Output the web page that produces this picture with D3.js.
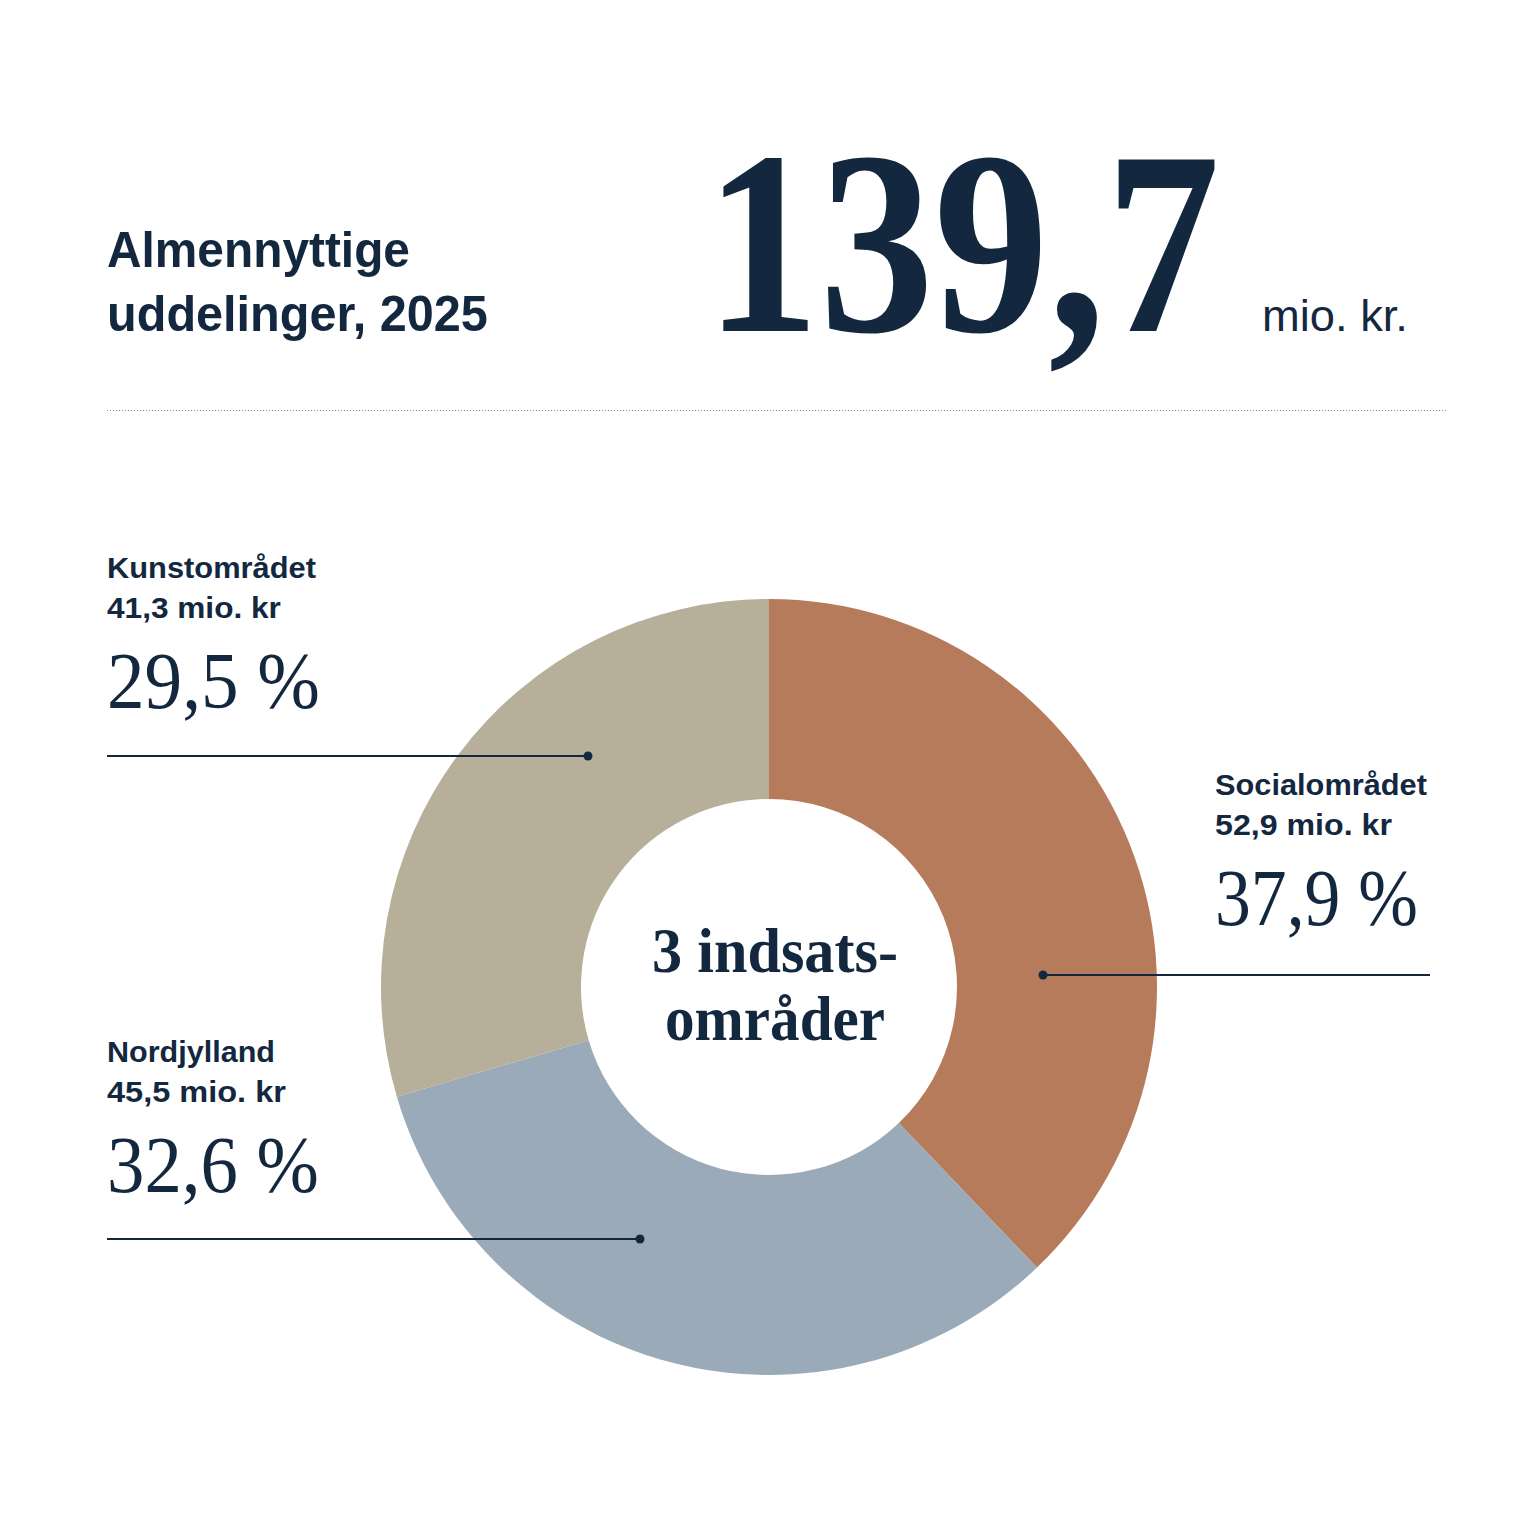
<!DOCTYPE html>
<html>
<head>
<meta charset="utf-8">
<script src="https://cdn.jsdelivr.net/npm/d3@7"></script>
<style>
  body { margin: 0; background: #fff; }
  svg { display: block; }
</style>
</head>
<body>
<div id="chart"></div>
<script>
const categories = ['Socialområdet', 'Nordjylland', 'Kunstområdet'];
const amounts = [52.9, 45.5, 41.3];
const percentLabels = ['37,9 %', '32,6 %', '29,5 %'];
const amountLabels = ['52,9 mio. kr', '45,5 mio. kr', '41,3 mio. kr'];
const colors = ['#B57B5A', '#9BAAB8', '#B8AF9A'];
const totalLabel = '139,7';

const ink = '#13283F';
const sans = "'Liberation Sans', Arial, sans-serif";
const serif = "'Liberation Serif', 'DejaVu Serif', serif";

const svg = d3.select('#chart').append('svg')
  .attr('width', 1536)
  .attr('height', 1536);

// places a text at (x, y) and squeezes it horizontally to the given width
function fitText(x, y, str, width, opts) {
  const g = svg.append('g').attr('transform', `translate(${x},${y})`);
  const t = g.append('text')
    .attr('font-family', opts.family)
    .attr('font-weight', opts.weight || 400)
    .attr('font-size', opts.size)
    .attr('text-anchor', opts.anchor || 'start')
    .attr('fill', ink)
    .text(str);
  const w = t.node().getComputedTextLength();
  const k = width / w;
  g.attr('transform', `translate(${x},${y}) scale(${k},1)`);
  return t;
}

// header
fitText(107, 267, 'Almennyttige', 303, { family: sans, weight: 700, size: 50 });
fitText(107, 331, 'uddelinger, 2025', 381, { family: sans, weight: 700, size: 50 });
fitText(705, 331, totalLabel, 515, { family: serif, weight: 700, size: 262 });
fitText(1262, 331, 'mio. kr.', 146, { family: sans, size: 44 });

svg.append('line')
  .attr('x1', 107).attr('x2', 1446)
  .attr('y1', 410.5).attr('y2', 410.5)
  .attr('stroke', '#8a8f96').attr('stroke-width', 1)
  .attr('stroke-dasharray', '1 2');

// donut
const cx = 769, cy = 987;
const outerR = 388, innerR = 188;

const pie = d3.pie().sort(null).value(d => d);
const arc = d3.arc().innerRadius(innerR).outerRadius(outerR);

const g = svg.append('g').attr('transform', `translate(${cx},${cy})`);
g.selectAll('path')
  .data(pie(amounts))
  .join('path')
  .attr('d', arc)
  .attr('fill', (d, i) => colors[i]);

// center text
fitText(775, 972, '3 indsats-', 246, { family: serif, weight: 700, size: 64, anchor: 'middle' });
fitText(775, 1040, 'områder', 220, { family: serif, weight: 700, size: 64, anchor: 'middle' });

// labels
const labelLayout = [
  { x: 1215, y: 795, lineY: 975, x1: 1043, x2: 1430, dotX: 1043, w: [212, 177, 203] },
  { x: 107, y: 1062, lineY: 1239, x1: 107, x2: 640, dotX: 640, w: [168, 179, 212] },
  { x: 107, y: 578, lineY: 756, x1: 107, x2: 588, dotX: 588, w: [209, 174, 213] }
];

categories.forEach((name, i) => {
  const L = labelLayout[i];
  fitText(L.x, L.y, name, L.w[0], { family: sans, weight: 700, size: 30 });
  fitText(L.x, L.y + 40, amountLabels[i], L.w[1], { family: sans, weight: 700, size: 30 });
  fitText(L.x, L.y + 130, percentLabels[i], L.w[2], { family: serif, size: 80 });
  svg.append('line')
    .attr('x1', L.x1).attr('x2', L.x2)
    .attr('y1', L.lineY).attr('y2', L.lineY)
    .attr('stroke', ink).attr('stroke-width', 2);
  svg.append('circle')
    .attr('cx', L.dotX).attr('cy', L.lineY).attr('r', 4.5)
    .attr('fill', ink);
});
</script>
</body>
</html>
